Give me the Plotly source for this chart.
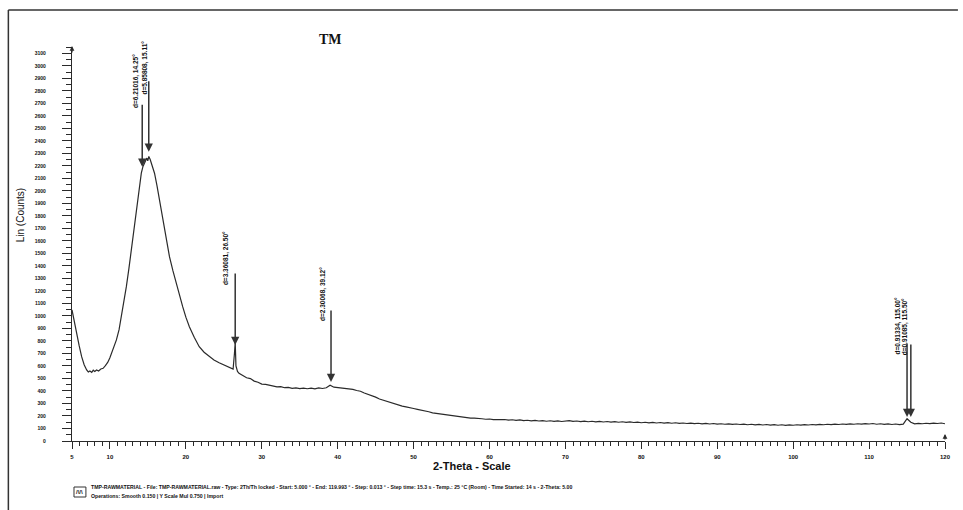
import plotly.graph_objects as go

# ---------------- data ----------------
two_theta_low = [
    5.0, 5.3, 5.62, 5.95, 6.27, 6.6, 6.93, 7.15, 7.36, 7.6,
    7.8, 8.0, 8.24, 8.5, 8.8, 9.1, 9.4, 9.7, 9.98, 10.4,
    10.85, 11.2, 11.51, 11.85, 12.16, 12.5, 12.82, 13.15, 13.47, 13.8,
    14.13, 14.35, 14.56, 14.75, 14.86, 14.98, 15.12, 15.3, 15.5, 15.87,
    16.2, 16.53, 16.85, 17.18, 17.5, 17.84, 18.3, 18.71, 19.1, 19.58,
    20.0, 20.46, 21.1, 21.76, 22.4, 23.07, 23.7, 24.38, 25.0, 25.69,
    26.0, 26.22, 26.4, 26.5, 26.6, 26.8,
]
counts_low = [
    1048, 950, 864, 760, 674, 610, 568, 552, 560, 548,
    566, 556, 568, 560, 576, 581, 602, 628, 664, 730,
    808, 890, 994, 1110, 1234, 1380, 1528, 1700, 1874, 2010,
    2141, 2195, 2221, 2245, 2262, 2240, 2275, 2250, 2205, 2141,
    2040, 1928, 1810, 1688, 1580, 1474, 1360, 1261, 1170, 1074,
    990, 914, 830, 754, 710, 674, 648, 626, 610, 594,
    580, 575, 700, 790, 600, 556,
]
two_theta_high = [
    27.0, 27.5, 28.0, 28.5, 29.0, 29.5, 30.0, 30.5, 31.0, 31.5,
    32.0, 32.5, 33.0, 33.5, 34.0, 34.5, 35.0, 35.5, 36.0, 36.5,
    37.0, 37.5, 38.0, 38.5, 39.0, 39.5, 40.0, 40.5, 41.0, 41.5,
    42.0, 42.5, 43.0, 43.5, 44.0, 44.5, 45.0, 45.5, 46.0, 46.5,
    47.0, 47.5, 48.0, 48.5, 49.0, 49.5, 50.0, 50.5, 51.0, 51.5,
    52.0, 52.5, 53.0, 53.5, 54.0, 54.5, 55.0, 55.5, 56.0, 56.5,
    57.0, 57.5, 58.0, 58.5, 59.0, 59.5, 60.0, 60.5, 61.0, 61.5,
    62.0, 62.5, 63.0, 63.5, 64.0, 64.5, 65.0, 65.5, 66.0, 66.5,
    67.0, 67.5, 68.0, 68.5, 69.0, 69.5, 70.0, 70.5, 71.0, 71.5,
    72.0, 72.5, 73.0, 73.5, 74.0, 74.5, 75.0, 75.5, 76.0, 76.5,
    77.0, 77.5, 78.0, 78.5, 79.0, 79.5, 80.0, 80.5, 81.0, 81.5,
    82.0, 82.5, 83.0, 83.5, 84.0, 84.5, 85.0, 85.5, 86.0, 86.5,
    87.0, 87.5, 88.0, 88.5, 89.0, 89.5, 90.0, 90.5, 91.0, 91.5,
    92.0, 92.5, 93.0, 93.5, 94.0, 94.5, 95.0, 95.5, 96.0, 96.5,
    97.0, 97.5, 98.0, 98.5, 99.0, 99.5, 100.0, 100.5, 101.0, 101.5,
    102.0, 102.5, 103.0, 103.5, 104.0, 104.5, 105.0, 105.5, 106.0, 106.5,
    107.0, 107.5, 108.0, 108.5, 109.0, 109.5, 110.0, 110.5, 111.0, 111.5,
    112.0, 112.5, 113.0, 113.5, 114.0, 114.5, 115.0, 115.5, 116.0, 116.5,
    117.0, 117.5, 118.0, 118.5, 119.0, 119.5, 120.0,
]
counts_high = [
    541, 526, 506, 499, 479, 470, 455, 452, 444, 441,
    433, 435, 426, 428, 421, 425, 419, 423, 418, 422,
    417, 424, 420, 426, 446, 430, 427, 425, 423, 417,
    413, 404, 398, 384, 374, 359, 351, 336, 326, 313,
    305, 294, 289, 279, 273, 264, 260, 253, 248, 239,
    234, 225, 221, 212, 209, 203, 201, 195, 194, 189,
    188, 183, 183, 178, 178, 174, 176, 171, 173, 170,
    172, 167, 170, 165, 169, 163, 166, 161, 165, 160,
    163, 158, 162, 157, 161, 156, 160, 163, 157, 160,
    155, 159, 154, 158, 153, 157, 152, 156, 151, 155,
    150, 154, 149, 153, 148, 151, 146, 150, 145, 149,
    144, 148, 143, 147, 142, 146, 141, 144, 140, 143,
    139, 142, 137, 141, 136, 140, 135, 138, 134, 137,
    133, 136, 132, 135, 130, 134, 129, 133, 128, 132,
    127, 131, 126, 130, 125, 129, 126, 130, 127, 131,
    128, 132, 129, 133, 130, 134, 131, 135, 132, 136,
    133, 137, 134, 138, 135, 139, 136, 140, 134, 138,
    133, 137, 132, 136, 131, 135, 178, 150, 137, 141,
    138, 142, 139, 143, 140, 144, 138,
]

peak_2theta = [14.25, 15.11, 26.50, 39.12, 115.00, 115.50]
peak_labels = [
    "d=6.21016, 14.25°", "d=5.85808, 15.11°", "d=3.36081, 26.50°",
    "d=2.30068, 39.12°", "d=0.91334, 115.00°", "d=0.91085, 115.50°",
]
peak_tip = [2192, 2312, 768, 472, 192, 192]
peak_top = [2700, 2888, 1352, 1056, 792, 784]
label_base = [2648, 2752, 1232, 944, 672, 672]

x_ticks = [5, 10, 20, 30, 40, 50, 60, 70, 80, 90, 100, 110, 120]
y_ticks = list(range(0, 3200, 100))

# ---------------- layout helpers ----------------
W, H = 963, 510
L, R, T, B = 72, 13, 47, 69
PW, PH = W - L - R, H - T - B


def px(xp):
    return (xp - L) / PW


def py(yp):
    return 1 - (yp - T) / PH


FONT = "Arial, Liberation Sans, sans-serif"
INK = "#2a2a2a"

fig = go.Figure()
fig.add_trace(go.Scatter(
    x=two_theta_low + two_theta_high,
    y=counts_low + counts_high,
    mode="lines",
    line=dict(color=INK, width=1.2),
    hoverinfo="skip",
    showlegend=False,
))

annotations = []
label_shift = [-6, -4, -9, -8, -9, -5]
for i, tt in enumerate(peak_2theta):
    annotations.append(dict(
        x=tt, y=peak_tip[i], xref="x", yref="y",
        ax=tt, ay=peak_top[i], axref="x", ayref="y",
        text="", showarrow=True, arrowhead=2, arrowsize=1.1,
        arrowwidth=1.5, arrowcolor="#333333", standoff=0,
    ))
    annotations.append(dict(
        x=tt, y=label_base[i], xref="x", yref="y",
        text="<b>" + peak_labels[i] + "</b>", textangle=-90,
        xanchor="center", yanchor="bottom", xshift=label_shift[i],
        showarrow=False, font=dict(family=FONT, size=6.5, color="#111"),
    ))

annotations += [
    dict(x=px(318), y=py(30), xref="paper", yref="paper", text="<b>TM</b>",
         showarrow=False, font=dict(family="Liberation Serif, serif", size=14, color="#111")),
    dict(x=px(474), y=py(474), xref="paper", yref="paper", text="<b>2-Theta - Scale</b>",
         showarrow=False, font=dict(family=FONT, size=11, color="#111")),
    dict(x=px(21), y=py(215), xref="paper", yref="paper", text="Lin (Counts)",
         xanchor="center", textangle=-90, showarrow=False,
         font=dict(family=FONT, size=10, color="#111")),
    dict(x=px(89), y=py(492), xref="paper", yref="paper", xanchor="left",
         text="<b>TMP-RAWMATERIAL - File: TMP-RAWMATERIAL.raw - Type: 2Th/Th locked - Start: 5.000 ° - End: 119.993 ° - Step: 0.013 ° - Step time: 15.3 s - Temp.: 25 °C (Room) - Time Started: 14 s - 2-Theta: 5.00</b>",
         showarrow=False, font=dict(family=FONT, size=5.2, color="#111")),
    dict(x=px(89), y=py(501), xref="paper", yref="paper", xanchor="left",
         text="<b>Operations: Smooth 0.150 | Y Scale Mul 0.750 | Import</b>",
         showarrow=False, font=dict(family=FONT, size=5.2, color="#111")),
    dict(x=px(80), y=py(492), xref="paper", yref="paper", text="<b>/\\/\\</b>",
         xanchor="center", yanchor="middle", showarrow=False,
         font=dict(family=FONT, size=6, color="#111")),
    dict(x=px(72), y=py(46), xref="paper", yref="paper", ax=0, ay=8, text="",
         showarrow=True, arrowhead=2, arrowsize=0.8, arrowwidth=1.2, arrowcolor=INK),
    dict(x=px(950), y=py(434), xref="paper", yref="paper", ax=0, ay=7, text="",
         showarrow=True, arrowhead=2, arrowsize=0.8, arrowwidth=1.2, arrowcolor=INK),
]

shapes = [
    dict(type="line", xref="paper", yref="paper", x0=px(8), x1=px(8), y0=py(10), y1=py(510),
         line=dict(color="#333", width=1.5)),
    dict(type="line", xref="paper", yref="paper", x0=px(8), x1=px(963), y0=py(10), y1=py(10),
         line=dict(color="#333", width=1.5)),
    dict(type="rect", xref="paper", yref="paper", x0=px(74), x1=px(86), y0=py(497), y1=py(487),
         line=dict(color="#333", width=1)),
]

fig.update_layout(
    width=W, height=H,
    margin=dict(l=L, r=R, t=T, b=B, pad=0),
    paper_bgcolor="white", plot_bgcolor="white",
    showlegend=False,
    annotations=annotations,
    shapes=shapes,
    xaxis=dict(
        range=[5, 120], tickmode="array", tickvals=x_ticks,
        ticktext=["<b>%d</b>" % v for v in x_ticks],
        ticks="outside", ticklen=7, tickwidth=1.2, tickcolor=INK,
        minor=dict(dtick=1, ticks="outside", ticklen=4, tickcolor=INK, tickwidth=1),
        showline=True, linecolor=INK, linewidth=1.3,
        showgrid=False, zeroline=False,
        tickfont=dict(family=FONT, size=6, color="#111"),
        ticklabelstandoff=3,
    ),
    yaxis=dict(
        range=[0, 3150], tickmode="array", tickvals=y_ticks,
        ticktext=["<b>%d</b>" % v for v in y_ticks],
        ticks="outside", ticklen=9, tickwidth=1.2, tickcolor=INK,
        minor=dict(dtick=50, ticks="outside", ticklen=5, tickcolor=INK, tickwidth=1),
        showline=True, linecolor=INK, linewidth=1.3,
        showgrid=False, zeroline=False,
        tickfont=dict(family=FONT, size=5, color="#111"),
        ticklabelstandoff=15,
    ),
)

fig.write_html(
    "out.html",
    config={"displayModeBar": False},
    post_script="document.body.style.margin='0';document.body.style.overflow='hidden';",
)
